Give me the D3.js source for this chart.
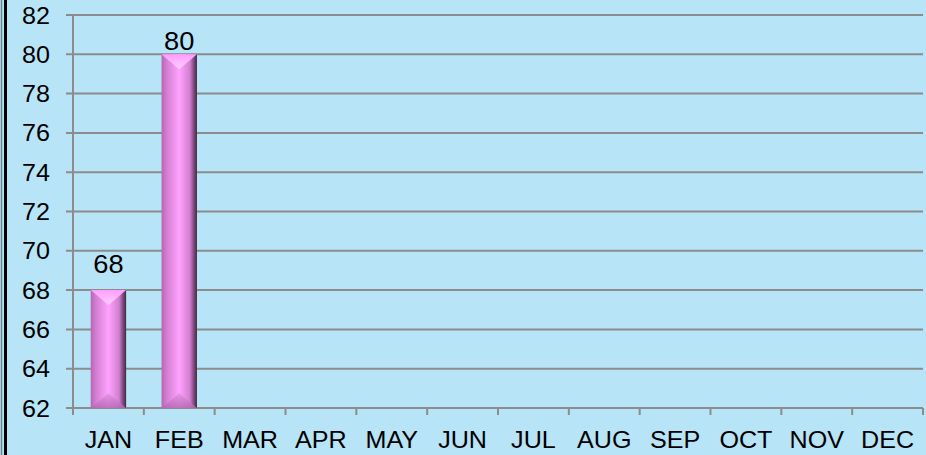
<!DOCTYPE html>
<html>
<head>
<meta charset="UTF-8">
<title>Chart</title>
<style>
  body { margin: 0; background: #b8e4f7; }
  svg { display: block; }
  text { font-family: "Liberation Sans", Arial, sans-serif; fill: #000; }
</style>
<script src="https://d3js.org/d3.v7.min.js"></script>
</head>
<body>
<svg width="926" height="455"></svg>
<script>
// data
var months = ["JAN", "FEB", "MAR", "APR", "MAY", "JUN", "JUL", "AUG", "SEP", "OCT", "NOV", "DEC"];
var values = [68, 80, null, null, null, null, null, null, null, null, null, null];
var yTicks = [62, 64, 66, 68, 70, 72, 74, 76, 78, 80, 82];

var svg = d3.select("svg"),
    width = +svg.attr("width"),
    height = +svg.attr("height");

var plotLeft = 73, plotRight = 923, plotTop = 15, plotBottom = 408;
var sx = 1.07; // text is a little wider than normal in the reference

svg.append("rect").attr("width", width).attr("height", height).attr("fill", "#b8e4f7");

// left frame lines
svg.append("line").attr("x1", 1.5).attr("x2", 1.5).attr("y1", 0).attr("y2", height)
    .attr("stroke", "#6f8590").attr("stroke-width", 1.5);
svg.append("line").attr("x1", 5.5).attr("x2", 5.5).attr("y1", 0).attr("y2", height)
    .attr("stroke", "#000").attr("stroke-width", 3);

var x = d3.scaleBand().domain(months).range([plotLeft, plotRight]).paddingInner(0.5).paddingOuter(0.25);
var xb = d3.scaleBand().domain(months).range([plotLeft, plotRight]);
var y = d3.scaleLinear().domain([62, 82]).range([plotBottom, plotTop]);

// gridlines
svg.append("g").selectAll("line").data(yTicks).enter().append("line")
    .attr("x1", plotLeft - 7).attr("x2", plotRight)
    .attr("y1", function (d) { return y(d); }).attr("y2", function (d) { return y(d); })
    .attr("stroke", "#8c8c8c").attr("stroke-width", 2);

// y axis line
svg.append("line").attr("x1", plotLeft).attr("x2", plotLeft).attr("y1", plotTop).attr("y2", plotBottom + 7)
    .attr("stroke", "#8c8c8c").attr("stroke-width", 2);

// x tick marks
var xt = months.map(function (m) { return xb(m) + xb.bandwidth(); });
svg.append("g").selectAll("line").data(xt).enter().append("line")
    .attr("x1", function (d) { return d; }).attr("x2", function (d) { return d; })
    .attr("y1", plotBottom).attr("y2", plotBottom + 7)
    .attr("stroke", "#8c8c8c").attr("stroke-width", 2);

// y tick labels
svg.append("g").selectAll("text").data(yTicks).enter().append("text")
    .attr("transform", function (d) { return "translate(50," + (y(d) + 8.5) + ") scale(" + sx + ",1)"; })
    .attr("text-anchor", "end")
    .style("font-size", "23.5px")
    .text(function (d) { return d; });

// x labels
svg.append("g").selectAll("text").data(months).enter().append("text")
    .attr("transform", function (d) { return "translate(" + (xb(d) + xb.bandwidth() / 2) + ",448) scale(" + sx + ",1)"; })
    .attr("text-anchor", "middle")
    .style("font-size", "23.5px")
    .text(function (d) { return d; });

// gradients
var defs = svg.append("defs");
var g1 = defs.append("linearGradient").attr("id", "body").attr("x1", 0).attr("x2", 1).attr("y1", 0).attr("y2", 0);
g1.append("stop").attr("offset", "0").attr("stop-color", "#b468b0");
g1.append("stop").attr("offset", "0.15").attr("stop-color", "#d47ed2");
g1.append("stop").attr("offset", "0.5").attr("stop-color", "#ffa2ff");
g1.append("stop").attr("offset", "0.8").attr("stop-color", "#d17fcf");
g1.append("stop").attr("offset", "0.9").attr("stop-color", "#8a4e88");
g1.append("stop").attr("offset", "1").attr("stop-color", "#3e2a3e");

var g2 = defs.append("linearGradient").attr("id", "topb").attr("x1", 0).attr("x2", 0).attr("y1", 0).attr("y2", 1);
g2.append("stop").attr("offset", "0").attr("stop-color", "#ff9cff");
g2.append("stop").attr("offset", "1").attr("stop-color", "#ffd0ff");

var g3 = defs.append("linearGradient").attr("id", "botb").attr("x1", 0).attr("x2", 0).attr("y1", 0).attr("y2", 1);
g3.append("stop").attr("offset", "0").attr("stop-color", "#e090e0");
g3.append("stop").attr("offset", "1").attr("stop-color", "#b466b2");

var data = months.map(function (m, i) { return { m: m, v: values[i] }; })
    .filter(function (d) { return d.v !== null; });

var bar = svg.append("g").selectAll("g").data(data).enter().append("g");
bar.append("rect")
    .attr("x", function (d) { return x(d.m); })
    .attr("y", function (d) { return y(d.v); })
    .attr("width", x.bandwidth())
    .attr("height", function (d) { return plotBottom - y(d.v); })
    .attr("fill", "url(#body)");
bar.append("path")
    .attr("d", function (d) {
        var x0 = x(d.m), x1 = x0 + x.bandwidth(), t = y(d.v), h = x.bandwidth() * 0.42;
        return "M" + x0 + "," + t + "L" + x1 + "," + t + "L" + (x0 + x1) / 2 + "," + (t + h) + "Z";
    })
    .attr("fill", "url(#topb)");
bar.append("path")
    .attr("d", function (d) {
        var x0 = x(d.m), x1 = x0 + x.bandwidth(), h = x.bandwidth() * 0.42;
        return "M" + x0 + "," + plotBottom + "L" + x1 + "," + plotBottom + "L" + (x0 + x1) / 2 + "," + (plotBottom - h) + "Z";
    })
    .attr("fill", "url(#botb)").attr("opacity", 0.8);

// value labels (kept inside the plot area, as the reference does for the tallest bar)
bar.append("text")
    .attr("transform", function (d) {
        var ly = Math.max(y(d.v) - 17.5, plotTop + 35);
        return "translate(" + (x(d.m) + x.bandwidth() / 2) + "," + ly + ") scale(" + sx + ",1)";
    })
    .attr("text-anchor", "middle")
    .style("font-size", "25.5px")
    .text(function (d) { return d.v; });
</script>
</body>
</html>
